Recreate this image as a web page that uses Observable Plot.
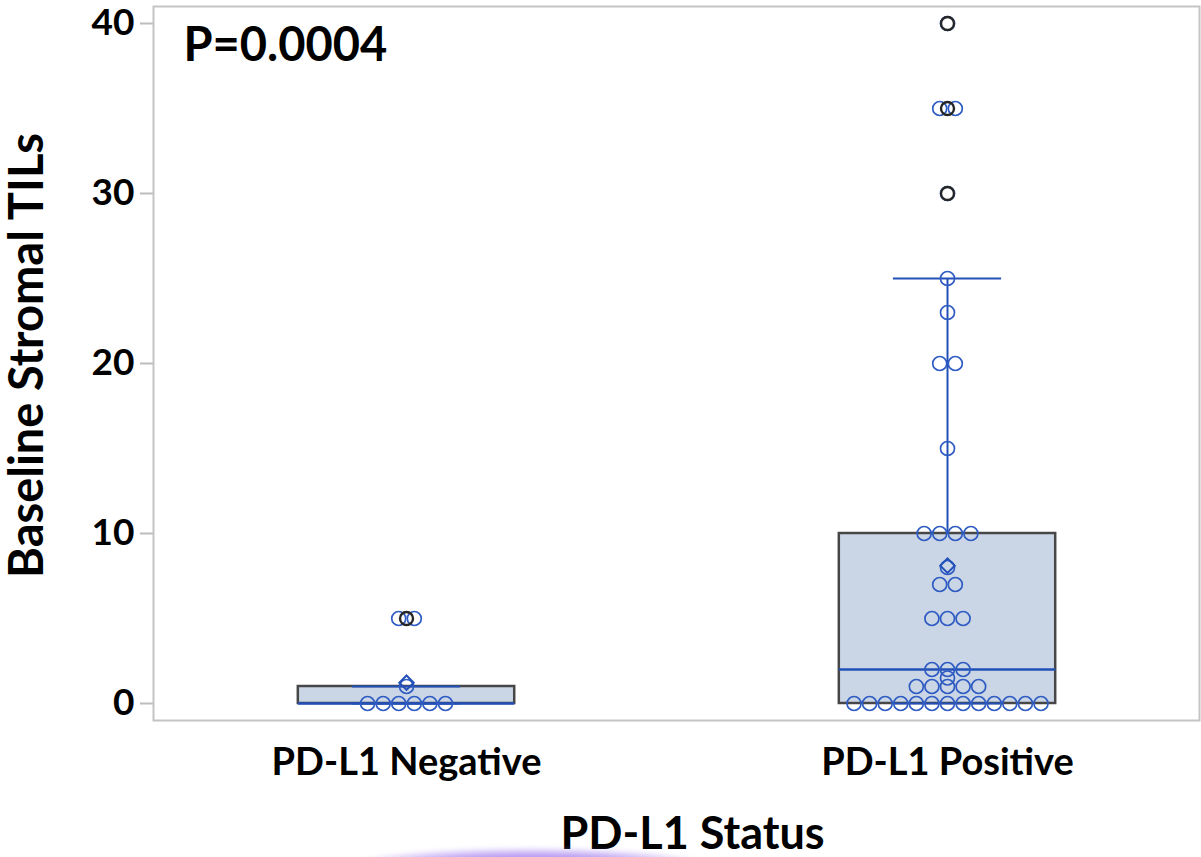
<!DOCTYPE html>
<html><head><meta charset="utf-8">
<script src="https://cdn.jsdelivr.net/npm/d3@7"></script>
<script src="https://cdn.jsdelivr.net/npm/@observablehq/plot@0.6"></script>
<style>
html,body{margin:0;padding:0;background:#fff;overflow:hidden;width:1201px;height:857px;}
#chart{position:relative;width:1201px;height:857px;overflow:hidden;}
#chart svg text{font-weight:bold;}
.glow{position:absolute;left:345px;top:847px;width:370px;height:40px;border-radius:50%;
background:radial-gradient(ellipse at center, rgba(150,105,235,0.95) 0%, rgba(170,135,240,0.7) 45%, rgba(210,190,250,0) 72%);filter:blur(2px);}
</style></head><body><div id="chart"></div>
<script>
// ---- data ----
const groups = ["PD-L1 Negative", "PD-L1 Positive"];
const negativeValues = [0,0,0,0,0,0,1,5,5];
const positiveValues = [0,0,0,0,0,0,0,0,0,0,0,0,0, 1,1,1,1,1, 1.5, 2,2,2, 5,5,5, 7,7, 8, 10,10,10,10, 15, 20,20, 23, 25, 30, 35,35, 40];
const yTicks = [0, 10, 20, 30, 40];
const pValueText = "P=0.0004";
const xTitle = "PD-L1 Status";
const yTitle = "Baseline Stromal TILs";

// ---- derived box statistics ----
const series = [negativeValues, positiveValues];
const boxStats = series.map((vals, i) => {
  const s = vals.slice().sort(d3.ascending);
  const q1 = d3.quantile(s, 0.25), median = d3.quantile(s, 0.5), q3 = d3.quantile(s, 0.75);
  const iqr = q3 - q1;
  const hi = d3.max(s.filter(v => v <= q3 + 1.5 * iqr));
  const lo = d3.min(s.filter(v => v >= q1 - 1.5 * iqr));
  return {i, q1, median, q3, hi, lo, mean: d3.mean(s),
          outliers: Array.from(new Set(s.filter(v => v > hi || v < lo)))};
});
const outliers = boxStats.flatMap(b => b.outliers.map(v => ({i: b.i, value: v})));

// points laid out side by side when they share a value
const spacing = 0.0288;
const points = series.flatMap((vals, i) => {
  const counts = d3.rollup(vals, v => v.length, v => v);
  return Array.from(counts, ([value, n]) =>
    d3.range(n).map(k => ({value, x: i + (k - (n - 1) / 2) * spacing}))).flat();
});

const blue = "#2250b8";
const plot = Plot.plot({
  width: 1201, height: 857,
  marginLeft: 153, marginRight: 2, marginTop: 6, marginBottom: 137,
  x: {domain: [-0.4677, 1.4658]},
  y: {domain: [-1, 41]},
  style: {fontFamily: "Lato, 'Open Sans', sans-serif", background: "white", color: "black"},
  marks: [
    Plot.axisY({ticks: yTicks, tickSize: 13, tickPadding: 6, stroke: "#bdbdbd", strokeWidth: 2, fill: "black", fontSize: 37, label: null}),
    Plot.axisX({ticks: [0, 1], tickFormat: i => groups[i], tickSize: 0, tickPadding: 28, fill: "black", fontSize: 38, label: null}),
    Plot.rect(boxStats, {x1: d => d.i - 0.2, x2: d => d.i + 0.2, y1: "q1", y2: "q3", fill: "#cad5e6", stroke: "#474747", strokeWidth: 2.5}),
    Plot.ruleX(boxStats, {x: "i", y1: "q3", y2: "hi", stroke: blue, strokeWidth: 2}),
    Plot.ruleX(boxStats, {x: "i", y1: "lo", y2: "q1", stroke: blue, strokeWidth: 2}),
    Plot.ruleY(boxStats, {y: "hi", x1: d => d.i - 0.1, x2: d => d.i + 0.1, stroke: blue, strokeWidth: 2}),
    Plot.ruleY(boxStats, {y: "lo", x1: d => d.i - 0.1, x2: d => d.i + 0.1, stroke: blue, strokeWidth: 2}),
    Plot.ruleY(boxStats, {y: "median", x1: d => d.i - 0.2, x2: d => d.i + 0.2, stroke: blue, strokeWidth: 2.5}),
    Plot.dot(points, {x: "x", y: "value", r: 7, stroke: "#2f5cc2", strokeWidth: 1.7, fill: "none"}),
    Plot.dot(boxStats, {x: "i", y: "mean", symbol: "diamond2", r: 6.5, stroke: blue, strokeWidth: 2, fill: "none"}),
    Plot.dot(outliers, {x: "i", y: "value", r: 6.5, stroke: "#262626", strokeWidth: 2.4, fill: "none"}),
    Plot.frame({stroke: "#c4c4c4", strokeWidth: 2}),
    Plot.text([pValueText], {text: d => d, frameAnchor: "top-left", dx: 30, dy: 21, lineAnchor: "top", textAnchor: "start", fontSize: 47, fill: "black"}),
    Plot.text([yTitle], {text: d => d, frameAnchor: "left", rotate: -90, dx: -126, dy: -8, lineAnchor: "middle", textAnchor: "middle", fontSize: 47, fill: "black"}),
    Plot.text([xTitle], {text: d => d, frameAnchor: "bottom", dx: 16, dy: 97, lineAnchor: "top", textAnchor: "middle", fontSize: 45, fill: "black"})
  ]
});
const chart = document.getElementById("chart");
chart.appendChild(plot);
const glow = document.createElement("div");
glow.className = "glow";
chart.appendChild(glow);
</script>
</body></html>
